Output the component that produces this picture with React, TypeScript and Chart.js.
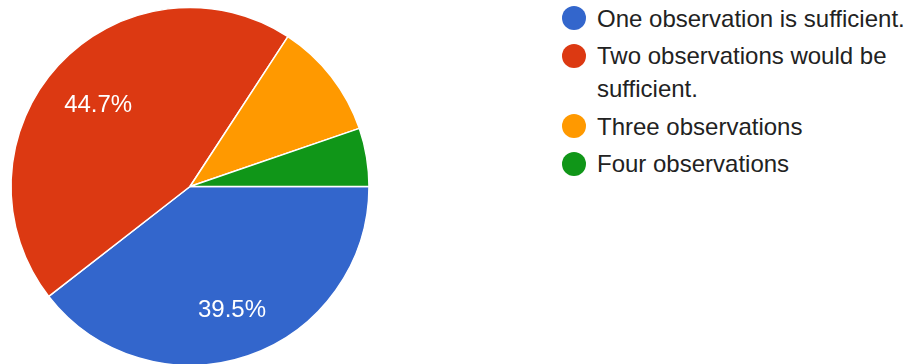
import React, { useEffect, useRef } from "react";
import { Chart, registerables } from "chart.js";

Chart.register(...registerables);

const categories = [
  "One observation is sufficient.",
  "Two observations would be sufficient.",
  "Three observations",
  "Four observations",
];
const responses = [15, 17, 4, 2];
const sliceColors = ["#3366CC", "#DC3912", "#FF9900", "#109618"];

const FONT = '"Liberation Sans", Arial, Helvetica, sans-serif';

const pctLabelPlugin = {
  id: "pctLabels",
  afterDatasetsDraw(chart: any) {
    const ctx = chart.ctx;
    const meta = chart.getDatasetMeta(0);
    const data = chart.data.datasets[0].data as number[];
    const total = data.reduce((a, b) => a + b, 0);
    ctx.save();
    ctx.fillStyle = "#ffffff";
    ctx.font = `24px ${FONT}`;
    ctx.textAlign = "center";
    ctx.textBaseline = "alphabetic";
    meta.data.forEach((arc: any, i: number) => {
      const frac = data[i] / total;
      if (frac < 0.15) return;
      const p = arc.getProps(["startAngle", "endAngle", "x", "y", "outerRadius"], true);
      const mid = (p.startAngle + p.endAngle) / 2;
      const r = p.outerRadius * 0.705;
      const tx = p.x + Math.cos(mid) * r + 1;
      const ty = p.y + Math.sin(mid) * r + 2.5;
      ctx.fillText((frac * 100).toFixed(1) + "%", tx, ty + 8.6);
    });
    ctx.restore();
  },
};

export default function App() {
  const ref = useRef<HTMLCanvasElement | null>(null);

  useEffect(() => {
    if (!ref.current) return;
    const chart = new Chart(ref.current, {
      type: "pie",
      data: {
        labels: categories,
        datasets: [
          {
            data: responses,
            backgroundColor: sliceColors,
            borderColor: "#ffffff",
            borderWidth: 1.5,
            hoverOffset: 0,
          },
        ],
      },
      options: {
        responsive: false,
        animation: false,
        rotation: 90,
        radius: 179,
        layout: { padding: 0 },
        plugins: {
          legend: { display: false },
          tooltip: { enabled: false },
        },
        events: [],
      } as any,
      plugins: [pctLabelPlugin],
    });
    return () => chart.destroy();
  }, []);

  return (
    <div
      style={{
        position: "absolute",
        left: 0,
        top: 0,
        width: 908,
        height: 364,
        overflow: "hidden",
        background: "#ffffff",
      }}
    >
      <canvas
        ref={ref}
        width={380}
        height={373}
        style={{ position: "absolute", left: 0, top: 0, width: 380, height: 373 }}
      />
      <div
        style={{
          position: "absolute",
          left: 562,
          top: 1.5,
          width: 346,
          display: "flex",
          flexDirection: "column",
          gap: 4.5,
          fontFamily: FONT,
          fontSize: 24,
          lineHeight: "33px",
          color: "#222222",
        }}
      >
        {categories.map((c, i) => (
          <div key={c} style={{ display: "flex", alignItems: "flex-start" }}>
            <span
              style={{
                display: "inline-block",
                width: 24,
                height: 24,
                borderRadius: "50%",
                background: sliceColors[i],
                marginTop: 4.5,
                flex: "0 0 auto",
              }}
            />
            <span style={{ marginLeft: 11, width: 318 }}>{c}</span>
          </div>
        ))}
      </div>
    </div>
  );
}
